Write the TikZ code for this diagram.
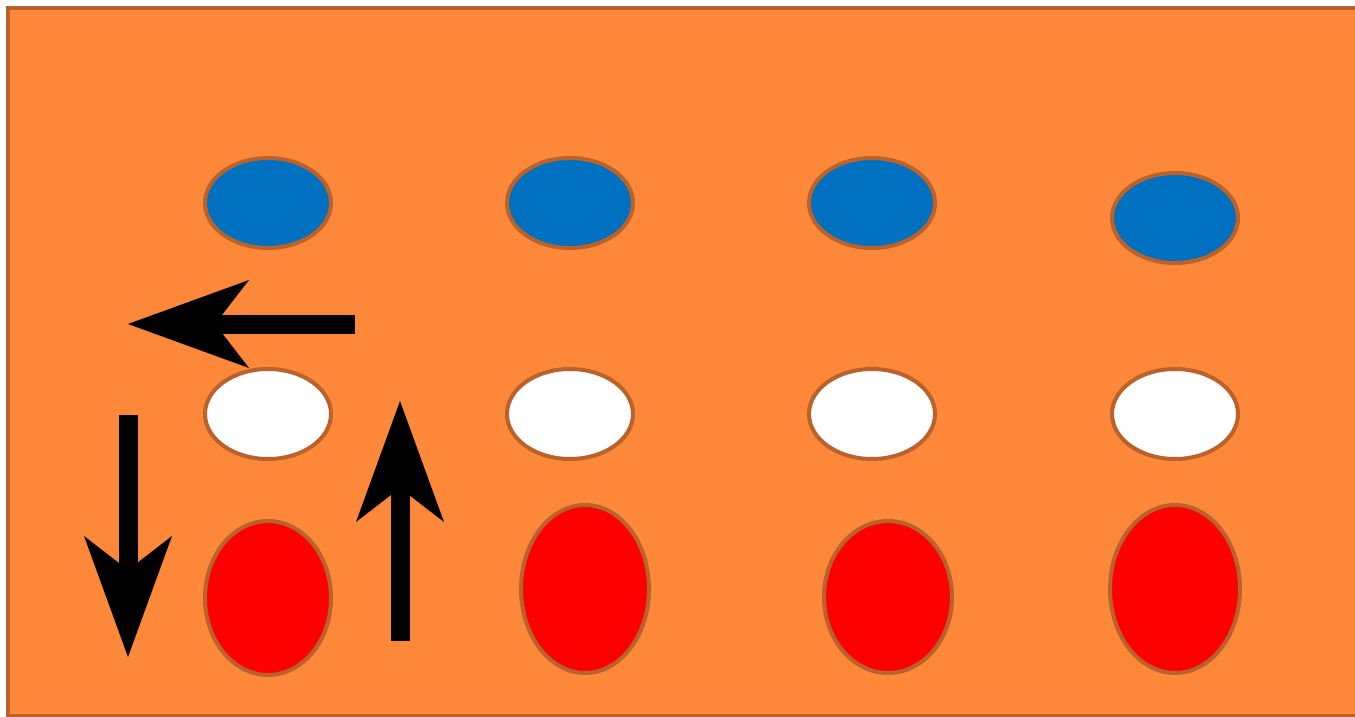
\documentclass[tikz,border=0pt]{standalone}
\usepackage{tikz}
\usetikzlibrary{arrows.meta,shapes.geometric}
\usepackage{xcolor}
\definecolor{PanelOrange}{HTML}{FD8839}
\definecolor{RimBrown}{HTML}{B9622C}
\definecolor{DotBlue}{HTML}{0070C0}
\definecolor{DotRed}{HTML}{FF0000}

\tikzset{
  dot/.style={ellipse,draw=RimBrown,line width=4pt,inner sep=0pt,minimum width=126pt,minimum height=90pt},
  bigarrow/.style={line width=19pt,-{Stealth[length=121pt,width=88pt,inset=34pt,line width=0pt]}}
}

\begin{document}
\begin{tikzpicture}[x=1pt,y=-1pt]
\useasboundingbox (0,0) rectangle (1355,717);
\draw[fill=PanelOrange,draw=RimBrown,line width=4pt] (8,8) rectangle (1370,716);
% top row
\node[dot,fill=DotBlue] (blue1) at (268,203) {};
\node[dot,fill=DotBlue] (blue2) at (570,203) {};
\node[dot,fill=DotBlue] (blue3) at (872,203) {};
\node[dot,fill=DotBlue] (blue4) at (1175,218) {};
% middle row
\node[dot,fill=white] (white1) at (268,414) {};
\node[dot,fill=white] (white2) at (570,414) {};
\node[dot,fill=white] (white3) at (872,414) {};
\node[dot,fill=white] (white4) at (1175,414) {};
% bottom row
\node[dot,fill=DotRed,minimum height=154pt] (red1) at (268,598) {};
\node[dot,fill=DotRed,minimum width=128pt,minimum height=168pt] (red2) at (585,589) {};
\node[dot,fill=DotRed,minimum width=128pt,minimum height=152pt] (red3) at (888,597) {};
\node[dot,fill=DotRed,minimum width=130pt,minimum height=168pt] (red4) at (1175,589) {};
% arrows
\coordinate (lefttail) at (355,324);
\coordinate (lefttip) at (128,324);
\coordinate (downtail) at (128,415);
\coordinate (downtip) at (128,657);
\coordinate (uptail) at (400,641);
\coordinate (uptip) at (400,401);
\draw[bigarrow] (lefttail) -- (lefttip);
\draw[bigarrow] (downtail) -- (downtip);
\draw[bigarrow] (uptail) -- (uptip);
\end{tikzpicture}
\end{document}
